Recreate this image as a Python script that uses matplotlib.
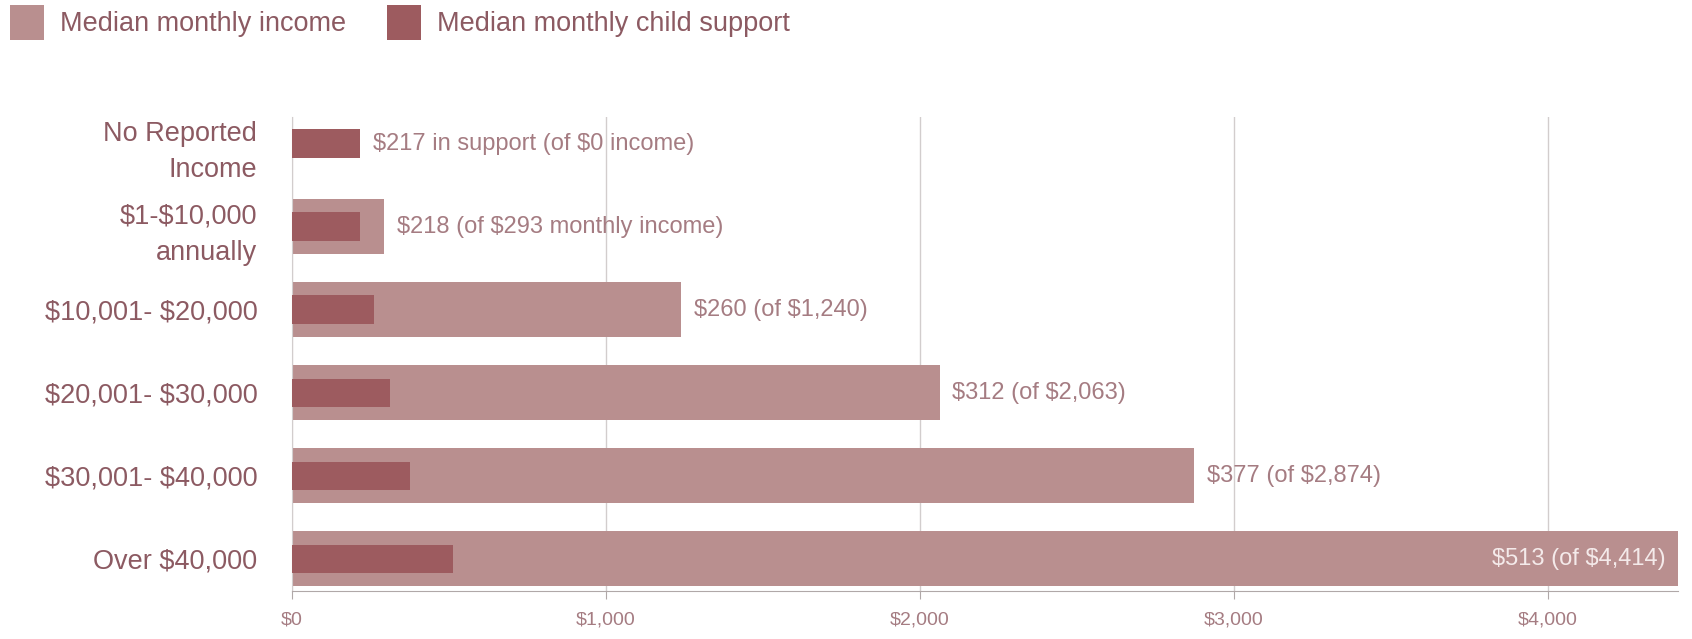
import matplotlib.pyplot as plt
import numpy as np

# data
categories = ['No Reported\nIncome', '$1-$10,000\nannually', '$10,001- $20,000',
              '$20,001- $30,000', '$30,001- $40,000', 'Over $40,000']
income = [0, 293, 1240, 2063, 2874, 4414]
support = [217, 218, 260, 312, 377, 513]
labels = ['$217 in support (of $0 income)', '$218 (of $293 monthly income)',
          '$260 (of $1,240)', '$312 (of $2,063)', '$377 (of $2,874)',
          '$513 (of $4,414)']
xticks = [0, 1000, 2000, 3000, 4000]
xtick_labels = ['$0', '$1,000', '$2,000', '$3,000', '$4,000']

c_income = '#b98f8f'
c_support = '#9d5b5f'
c_text = '#8c5a62'
c_note = '#a57c82'
c_grid = '#d2cdcd'

plt.rcParams['font.family'] = ['Liberation Sans', 'DejaVu Sans']
plt.rcParams['text.parse_math'] = False

fig = plt.figure(figsize=(16.92, 6.39), dpi=100)
ax = fig.add_axes([0.1726, 0.075, 0.9917 - 0.1726, 0.817 - 0.075])

y = np.arange(len(categories))
ax.barh(y, income, height=0.66, color=c_income, zorder=2,
        label='Median monthly income')
ax.barh(y, support, height=0.34, color=c_support, zorder=3,
        label='Median monthly child support')

ax.set_xlim(0, 4414)
ax.set_ylim(5.39, -0.32)
ax.set_yticks(y)
ax.set_yticklabels(categories, fontsize=19.5, color=c_text, linespacing=1.5)
ax.tick_params(axis='y', length=0, pad=25)
ax.set_xticks(xticks)
ax.set_xticklabels(xtick_labels, fontsize=14, color=c_note)
ax.tick_params(axis='x', length=6, color='#b0a8a8', pad=9)

for s in ['top', 'right']:
    ax.spines[s].set_visible(False)
ax.spines['left'].set_color(c_grid)
ax.spines['bottom'].set_color('#b0a8a8')
ax.grid(axis='x', color=c_grid, linewidth=1, zorder=0)

for i, (inc, sup, lab) in enumerate(zip(income, support, labels)):
    end = max(inc, sup)
    if i == len(labels) - 1:
        ax.annotate(lab, (end, i), xytext=(-9, 0), textcoords='offset points',
                    ha='right', va='center', fontsize=17, color='#f4eaea', zorder=4)
    else:
        ax.annotate(lab, (end, i), xytext=(9, 0), textcoords='offset points',
                    ha='left', va='center', fontsize=17, color=c_note, zorder=4)

fig.legend(loc='upper left', bbox_to_anchor=(-0.0085, 1.03), ncol=2, frameon=False,
           fontsize=19.5, labelcolor=c_text, handlelength=1.25, handleheight=1.6,
           handletextpad=0.6, columnspacing=1.5)

fig.savefig('out.png', dpi=100)
